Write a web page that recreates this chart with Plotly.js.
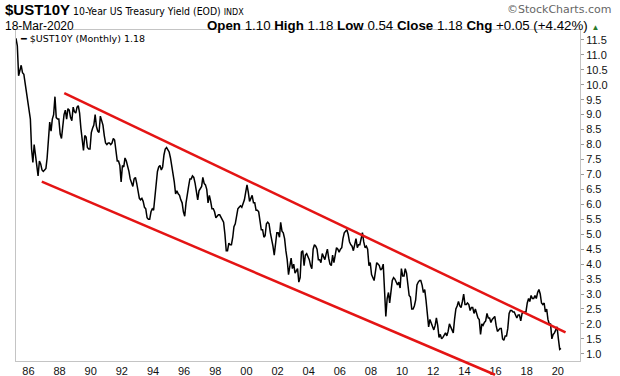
<!DOCTYPE html>
<html>
<head>
<meta charset="utf-8">
<script src="https://cdn.plot.ly/plotly-3.0.1.min.js"></script>
<style>html,body{margin:0;padding:0;background:#fff;}#chart{width:620px;height:376px;}</style>
</head>
<body>
<div id="chart"></div>
<script>
// Monthly closes of the 10-Year US Treasury Yield, starting March 1985
const START_YEAR = 1985, START_MONTH = 3;
const yields1985_1989 = [
  11.55, 11.30, 10.30, 10.45, 10.65, 10.40, 10.35, 10.05, 9.75, 9.55,
  9.30, 8.85, 7.85, 7.40, 8.00, 7.60, 7.35, 6.95, 7.45, 7.35, 7.15, 7.10,
  7.15, 7.20, 7.55, 8.40, 8.75, 8.45, 8.85, 9.00, 9.60, 8.90, 8.85, 8.85,
  8.35, 8.20, 8.70, 9.00, 9.15, 8.85, 9.20, 9.15, 8.90, 8.80, 9.25, 9.10,
  9.05, 9.25, 9.30, 9.05, 8.55, 8.05, 7.80, 8.30, 8.25, 7.90, 7.85, 7.85
];
const yields1990_1999 = [
  8.40, 8.55, 8.65, 9.00, 8.60, 8.45, 8.40, 8.95, 8.80, 8.65, 8.30, 8.05,
  8.00, 8.05, 8.05, 8.00, 8.05, 8.20, 8.15, 7.80, 7.45, 7.45, 7.30, 6.75,
  7.30, 7.25, 7.55, 7.45, 7.30, 7.10, 6.85, 6.75, 6.60, 6.85, 6.90, 6.70,
  6.45, 6.20, 6.15, 6.20, 6.10, 5.90, 5.85, 5.55, 5.50, 5.50, 5.75, 5.85,
  5.80, 6.30, 6.80, 7.10, 7.25, 7.30, 7.15, 7.25, 7.65, 7.85, 7.90, 7.80,
  7.75, 7.55, 7.30, 7.10, 6.75, 6.35, 6.45, 6.35, 6.30, 6.15, 6.05, 5.75,
  5.60, 6.05, 6.40, 6.60, 6.85, 6.85, 6.95, 6.90, 6.70, 6.35, 6.15, 6.45,
  6.55, 6.60, 6.90, 6.70, 6.65, 6.50, 6.05, 6.30, 6.10, 5.85, 5.85, 5.75,
  5.55, 5.60, 5.65, 5.65, 5.55, 5.45, 5.40, 5.00, 4.45, 4.45, 4.70, 4.65,
  4.65, 4.90, 5.25, 5.35, 5.60, 5.85, 5.90, 5.95, 5.90, 6.05, 6.15, 6.40
];
const yields2000_2009 = [
  6.65, 6.40, 6.10, 6.20, 6.30, 6.05, 6.05, 5.80, 5.80, 5.75, 5.40, 5.15,
  5.15, 4.90, 4.95, 5.35, 5.40, 5.35, 5.05, 4.85, 4.60, 4.30, 4.75, 5.05,
  5.05, 4.90, 5.40, 5.10, 5.05, 4.85, 4.45, 4.15, 3.65, 3.90, 4.20, 3.85,
  4.00, 3.70, 3.80, 3.85, 3.40, 3.55, 4.40, 4.45, 3.95, 4.30, 4.35, 4.25,
  4.15, 3.95, 3.85, 4.50, 4.65, 4.60, 4.50, 4.15, 4.15, 4.05, 4.35, 4.25,
  4.15, 4.35, 4.50, 4.20, 4.00, 3.95, 4.30, 4.05, 4.35, 4.55, 4.50, 4.40,
  4.50, 4.55, 4.85, 5.05, 5.10, 5.15, 5.00, 4.75, 4.65, 4.60, 4.45, 4.70,
  4.85, 4.55, 4.65, 4.65, 4.90, 5.05, 4.75, 4.55, 4.60, 4.50, 3.95, 4.05,
  3.65, 3.55, 3.45, 3.75, 4.05, 4.00, 3.95, 3.80, 3.85, 4.00, 2.95, 2.25,
  2.85, 3.05, 2.70, 3.15, 3.45, 3.55, 3.50, 3.40, 3.30, 3.40, 3.20, 3.85
];
const yields2010_2020 = [
  3.60, 3.60, 3.85, 3.70, 3.30, 2.95, 2.90, 2.50, 2.50, 2.60, 2.80, 3.30,
  3.40, 3.45, 3.45, 3.30, 3.05, 3.15, 2.80, 2.20, 1.90, 2.15, 2.05, 1.90,
  1.80, 1.95, 2.20, 1.95, 1.55, 1.65, 1.50, 1.55, 1.65, 1.70, 1.60, 1.75,
  2.00, 1.90, 1.85, 1.70, 2.15, 2.50, 2.60, 2.75, 2.60, 2.55, 2.75, 3.00,
  2.65, 2.65, 2.70, 2.65, 2.45, 2.55, 2.55, 2.35, 2.50, 2.35, 2.20, 2.15,
  1.65, 2.00, 1.95, 2.05, 2.10, 2.35, 2.20, 2.20, 2.05, 2.15, 2.20, 2.25,
  1.95, 1.75, 1.80, 1.85, 1.85, 1.50, 1.45, 1.60, 1.60, 1.85, 2.35, 2.45,
  2.45, 2.40, 2.40, 2.30, 2.20, 2.30, 2.30, 2.10, 2.35, 2.40, 2.40, 2.40,
  2.70, 2.85, 2.75, 2.95, 2.85, 2.85, 2.95, 2.85, 3.05, 3.15, 3.00, 2.70,
  2.65, 2.70, 2.40, 2.50, 2.15, 2.00, 2.00, 1.50, 1.65, 1.70, 1.80, 1.90,
  1.50, 1.15, 1.18
];
// Hand-drawn channel lines (date, yield)
const upperChannelDates = ['1988-04-20', '2020-07-01'];
const upperChannelValues = [9.72, 1.72];
const lowerChannelDates = ['1986-11-10', '2015-12-20'];
const lowerChannelValues = [6.76, 0.30];
// Axis ticks
const xTickYears = [1986,1988,1990,1992,1994,1996,1998,2000,2002,2004,2006,2008,2010,2012,2014,2016,2018,2020];
const xTickLabels = ['86','88','90','92','94','96','98','00','02','04','06','08','10','12','14','16','18','20'];
const xRange = ['1985-03-15', '2021-06-05'];
const yRange = [0.76, 11.83];

const values = [].concat(yields1985_1989, yields1990_1999, yields2000_2009, yields2010_2020);
const dates = values.map((v, i) => {
  const m = START_MONTH - 1 + i;
  const y = START_YEAR + Math.floor(m / 12);
  const mm = (m % 12) + 1;
  return y + '-' + String(mm).padStart(2, '0') + '-15';
});

// plot area geometry (pixels)
const W = 620, H = 376, L = 16, R = 40, T = 30, B = 15;
const pw = W - L - R, ph = H - T - B;
const px2x = p => (p - L) / pw;
const py2y = p => (H - B - p) / ph;
const t0 = Date.parse(xRange[0]), t1 = Date.parse(xRange[1]);
const d2x = d => (Date.parse(d) - t0) / (t1 - t0);
const v2y = v => (v - yRange[0]) / (yRange[1] - yRange[0]);

const channelLine = (ds, vs) => ({
  type: 'line', xref: 'paper', yref: 'paper',
  x0: d2x(ds[0]), y0: v2y(vs[0]), x1: d2x(ds[1]), y1: v2y(vs[1]),
  line: {color: '#e41414', width: 2.5}
});

const trace = {
  x: dates, y: values, type: 'scatter', mode: 'lines',
  line: {color: '#000', width: 1.5}, hoverinfo: 'skip', showlegend: false
};

const sans = 'Liberation Sans, Arial, sans-serif';
const layout = {
  width: W, height: H,
  margin: {l: L, r: R, t: T, b: B, pad: 0},
  paper_bgcolor: '#fff', plot_bgcolor: '#fff',
  showlegend: false,
  xaxis: {
    type: 'date', range: xRange, fixedrange: true,
    tickvals: xTickYears.map(y => y + '-01-01'), ticktext: xTickLabels,
    ticks: '', showgrid: false, zeroline: false,
    showline: true, mirror: true, linecolor: '#c4c4c4', linewidth: 1,
    tickfont: {family: sans, size: 11, color: '#111'}
  },
  yaxis: {
    side: 'right', range: yRange, fixedrange: true,
    tick0: 1, dtick: 0.5, tickformat: '.1f',
    ticks: 'outside', ticklen: 3, tickcolor: '#999', tickwidth: 1,
    showgrid: false, zeroline: false,
    showline: true, mirror: true, linecolor: '#c4c4c4', linewidth: 1,
    tickfont: {family: sans, size: 11, color: '#111'}
  },
  shapes: [
    channelLine(upperChannelDates, upperChannelValues),
    channelLine(lowerChannelDates, lowerChannelValues)
  ],
  annotations: [
    {xref: 'paper', yref: 'paper', x: px2x(3), y: py2y(9.5), xanchor: 'left', yanchor: 'middle', showarrow: false,
     text: "<b><span style='font-family:Liberation Sans;font-size:15px'>$UST10Y</span></b> 10-Year US Treasury Yield (EOD) <span style='font-family:DejaVu Sans;font-size:8px'>INDX</span>",
     font: {family: 'Liberation Sans Narrow, DejaVu Sans Condensed, Liberation Sans', size: 10.4, color: '#000'}},
    {xref: 'paper', yref: 'paper', x: px2x(613), y: py2y(9.5), xanchor: 'right', yanchor: 'middle', showarrow: false,
     text: '©StockCharts.com', font: {family: 'DejaVu Sans, Verdana, sans-serif', size: 11, color: '#666'}},
    {xref: 'paper', yref: 'paper', x: px2x(3), y: py2y(25.5), xanchor: 'left', yanchor: 'middle', showarrow: false,
     text: '18-Mar-2020', font: {family: sans, size: 12, color: '#000'}},
    {xref: 'paper', yref: 'paper', x: px2x(601), y: py2y(25.5), xanchor: 'right', yanchor: 'middle', showarrow: false,
     text: "<b>Open</b> 1.10 <b>High</b> 1.18 <b>Low</b> 0.54 <b>Close</b> 1.18 <b>Chg</b> +0.05 (+4.42%) <span style='font-size:8px;color:#2a7a2a'>▲</span>",
     font: {family: sans, size: 13.3, color: '#000'}},
    {xref: 'paper', yref: 'paper', x: px2x(18), y: py2y(38), xanchor: 'left', yanchor: 'middle', showarrow: false,
     text: '<b>━</b> $UST10Y (Monthly) 1.18', font: {family: 'DejaVu Sans, Verdana, sans-serif', size: 9.5, color: '#000'}}
  ]
};

Plotly.newPlot('chart', [trace], layout, {displayModeBar: false, staticPlot: true});
</script>
</body>
</html>
